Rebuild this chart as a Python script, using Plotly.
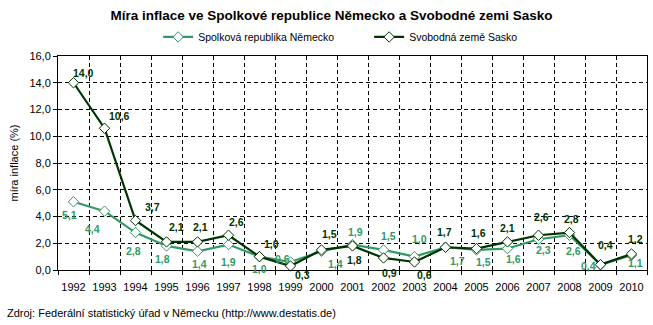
import plotly.graph_objects as go

# Annual inflation rates (%)
years = ["1992", "1993", "1994", "1995", "1996", "1997", "1998", "1999", "2000", "2001",
         "2002", "2003", "2004", "2005", "2006", "2007", "2008", "2009", "2010"]
nemecko = [5.1, 4.4, 2.8, 1.8, 1.4, 1.9, 1.0, 0.6, 1.4, 1.9,
           1.5, 1.0, 1.7, 1.5, 1.6, 2.3, 2.6, 0.4, 1.1]
sasko = [14.0, 10.6, 3.7, 2.1, 2.1, 2.6, 1.0, 0.3, 1.5, 1.8,
         0.9, 0.6, 1.7, 1.6, 2.1, 2.6, 2.8, 0.4, 1.2]
y_ticks = [0, 2, 4, 6, 8, 10, 12, 14, 16]

# Pixel offsets (right, down) of each value label from its point
off_nemecko = [(-4, 13), (-12, 18), (-2, 18), (-4, 13), (2, 13), (0, 17), (0, 12),
               (-8, -3), (14, 13), (3, -13), (5, -14), (5, -18), (12, 14), (7, 12),
               (6, 10), (5, 11), (4, 16), (-12, 1), (4, 8)]
off_sasko = [(10, -10), (15, -12), (17, -14), (10, -15), (3, -15), (8, -13), (12, -13),
             (12, 9), (8, -16), (2, 14), (6, 15), (10, 13), (-1, -15), (2, -16),
             (0, -14), (3, -18), (2, -14), (5, -20), (4, -15)]

GREEN = "#339966"
DARK = "#003300"
FONT = "Liberation Sans, Arial, sans-serif"

x = list(range(len(years)))


def fmt(v):
    return f"{v:.1f}".replace(".", ",")


fig = go.Figure()
for name, vals, color in [("Spolková republika Německo", nemecko, GREEN),
                          ("Svobodná země Sasko", sasko, DARK)]:
    fig.add_trace(go.Scatter(
        x=x, y=vals, name=name, mode="lines+markers",
        line=dict(color=color, width=2.2),
        marker=dict(symbol="diamond", size=8, color="white",
                    line=dict(color=color, width=1)),
        cliponaxis=False,
    ))

annotations = []
for vals, offs, color in [(nemecko, off_nemecko, GREEN), (sasko, off_sasko, DARK)]:
    for i, (v, (dx, dy)) in enumerate(zip(vals, offs)):
        annotations.append(dict(
            x=i, y=v, xref="x", yref="y", text=f"<b>{fmt(v)}</b>",
            showarrow=False, xshift=dx, yshift=-dy,
            font=dict(family=FONT, size=10.5, color=color),
        ))

annotations.append(dict(
    text="Zdroj: Federální statistický úřad v Německu (http://www.destatis.de)",
    xref="paper", yref="paper", x=-0.09, y=-0.2, xanchor="left", yanchor="middle",
    showarrow=False, font=dict(family=FONT, size=11, color="black"),
))

fig.update_layout(
    width=653, height=325,
    margin=dict(l=58, r=6, t=56, b=55),
    paper_bgcolor="white", plot_bgcolor="white",
    separators=", ",
    font=dict(family=FONT, size=11, color="black"),
    title=dict(
        text="<b>Míra inflace ve Spolkové republice Německo a Svobodné zemi Sasko</b>",
        x=331.5 / 653, xref="container", xanchor="center",
        y=1 - 15 / 325, yanchor="middle", yref="container",
        font=dict(family=FONT, size=13.5, color="black"),
    ),
    showlegend=True,
    legend=dict(
        orientation="h", x=0.17, xanchor="left", y=1.089, yanchor="middle",
        entrywidth=166, entrywidthmode="pixels",
        font=dict(family=FONT, size=10.5, color="black"),
        bgcolor="rgba(0,0,0,0)", itemwidth=30,
    ),
    xaxis=dict(
        range=[-0.5, len(years) - 0.5],
        tickmode="array", tickvals=x, ticktext=years,
        showgrid=False, ticks="", zeroline=False, ticklabelstandoff=7,
        showline=True, linecolor="black", linewidth=1, mirror=True,
        tickfont=dict(size=11),
        minor=dict(tick0=0.5, dtick=1, showgrid=True, gridcolor="black",
                   gridwidth=1, griddash="4px,3px", ticks="outside",
                   ticklen=4, tickcolor="black"),
    ),
    yaxis=dict(
        range=[0, 16], tickmode="array", tickvals=y_ticks, tickformat=".1f",
        showgrid=True, gridcolor="black", gridwidth=1, griddash="4px,3px",
        zeroline=False,
        showline=True, linecolor="black", linewidth=1, mirror=True,
        ticks="outside", ticklen=4, tickcolor="black",
        tickfont=dict(size=11),
        title=dict(text="míra inflace (%)", standoff=8, font=dict(size=11)),
    ),
    annotations=annotations,
)

fig.write_html("out.html")
